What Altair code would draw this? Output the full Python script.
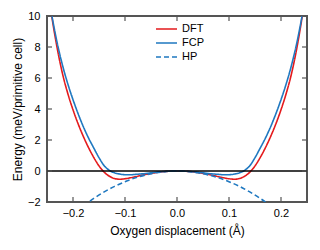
import altair as alt
import pandas as pd

# --- data ---
x_vals = [-0.25, -0.24, -0.23, -0.22, -0.21, -0.20, -0.19, -0.18, -0.17, -0.16, -0.15, -0.14, -0.13,
          -0.12, -0.11, -0.10, -0.09, -0.08, -0.06, -0.04, -0.02, 0.0,
          0.02, 0.04, 0.06, 0.08, 0.09, 0.10, 0.11, 0.12, 0.13, 0.14, 0.15, 0.16, 0.17,
          0.18, 0.19, 0.20, 0.21, 0.22, 0.23, 0.24, 0.25]
dft_vals = [12.1, 9.8, 7.85, 6.25, 5.0, 3.95, 3.03, 2.22, 1.50, 0.87, 0.33, -0.08, -0.34,
            -0.49, -0.53, -0.50, -0.44, -0.37, -0.22, -0.10, -0.025, 0.0,
            -0.025, -0.10, -0.22, -0.37, -0.44, -0.50, -0.53, -0.49, -0.34, -0.08, 0.33, 0.87, 1.50,
            2.22, 3.03, 3.95, 5.0, 6.25, 7.85, 9.8, 12.1]
fcp_vals = [11.8, 9.9, 8.2, 6.8, 5.62, 4.6, 3.68, 2.85, 2.12, 1.48, 0.86, 0.34, 0.04,
            -0.12, -0.20, -0.24, -0.24, -0.22, -0.16, -0.08, -0.02, 0.0,
            -0.02, -0.08, -0.16, -0.22, -0.24, -0.24, -0.20, -0.12, 0.04, 0.34, 0.86, 1.48, 2.12,
            2.85, 3.68, 4.6, 5.62, 6.8, 8.2, 9.9, 11.8]
hp_x = [-0.18, -0.16, -0.14, -0.12, -0.10, -0.08, -0.06, -0.04, -0.02, 0.0,
        0.02, 0.04, 0.06, 0.08, 0.10, 0.12, 0.14, 0.16, 0.18]
hp_vals = [-2.24, -1.77, -1.35, -0.99, -0.69, -0.44, -0.25, -0.11, -0.03, 0.0,
           -0.03, -0.11, -0.25, -0.44, -0.69, -0.99, -1.35, -1.77, -2.24]

series_names = ["DFT", "FCP", "HP"]
series_colors = ["#e41a1c", "#1f78c0", "#1f78c0"]
x_ticks = [-0.2, -0.1, 0.0, 0.1, 0.2]
y_ticks = [-2, 0, 2, 4, 6, 8, 10]
x_dom = [-0.25, 0.25]
y_dom = [-2, 10]

rows = []
for x, d, f in zip(x_vals, dft_vals, fcp_vals):
    rows.append({"x": x, "E": d, "series": "DFT"})
    rows.append({"x": x, "E": f, "series": "FCP"})
for x, h in zip(hp_x, hp_vals):
    rows.append({"x": x, "E": h, "series": "HP"})
df = pd.DataFrame(rows)
xt = pd.DataFrame({"t": x_ticks, "lo": y_dom[0], "hi": y_dom[1]})
yt = pd.DataFrame({"t": y_ticks, "lo": x_dom[0], "hi": x_dom[1]})

FONT = "Liberation Sans"
xscale = alt.Scale(domain=x_dom, nice=False, zero=False)
yscale = alt.Scale(domain=y_dom, nice=False, zero=False)

xaxis = alt.Axis(title="Oxygen displacement (Å)", values=x_ticks, format=".1f",
                 labelPadding=5, titlePadding=7, labelOverlap=False)
yaxis = alt.Axis(title="Energy (meV/primitive cell)", values=y_ticks, format="d",
                 labelPadding=7, titlePadding=3, labelOverlap=False)

leg = dict(title=None, orient="none", legendX=108, legendY=6,
           symbolType="stroke", symbolSize=441, symbolStrokeWidth=1.6,
           labelFontSize=11, labelFont=FONT, labelOffset=4, labelColor="#000",
           clipHeight=14, rowPadding=0, padding=0)

lines = alt.Chart(df).mark_line(clip=True, strokeWidth=1.6, interpolate="monotone").encode(
    x=alt.X("x:Q", scale=xscale, axis=xaxis),
    y=alt.Y("E:Q", scale=yscale, axis=yaxis),
    color=alt.Color("series:N",
                    scale=alt.Scale(domain=series_names, range=series_colors),
                    legend=alt.Legend(**leg)),
    strokeDash=alt.StrokeDash("series:N",
                              scale=alt.Scale(domain=series_names, range=[[1, 0], [1, 0], [5, 3]]),
                              legend=alt.Legend(**leg)),
)

zero = alt.Chart(pd.DataFrame({"v": [0]})).mark_rule(color="black", strokeWidth=1.4).encode(
    y=alt.Y("v:Q", scale=yscale, axis=yaxis))

tick_style = dict(color="#555555", strokeWidth=1.2)
bottom = alt.Chart(xt).mark_rule(y2Offset=-5, **tick_style).encode(
    x=alt.X("t:Q", scale=xscale, axis=xaxis), y=alt.Y("lo:Q", scale=yscale, axis=yaxis), y2="lo:Q")
top = alt.Chart(xt).mark_rule(y2Offset=5, **tick_style).encode(
    x=alt.X("t:Q", scale=xscale, axis=xaxis), y=alt.Y("hi:Q", scale=yscale, axis=yaxis), y2="hi:Q")
left = alt.Chart(yt).mark_rule(x2Offset=5, **tick_style).encode(
    y=alt.Y("t:Q", scale=yscale, axis=yaxis), x=alt.X("lo:Q", scale=xscale, axis=xaxis), x2="lo:Q")
right = alt.Chart(yt).mark_rule(x2Offset=-5, **tick_style).encode(
    y=alt.Y("t:Q", scale=yscale, axis=yaxis), x=alt.X("hi:Q", scale=xscale, axis=xaxis), x2="hi:Q")

chart = alt.layer(lines, zero, bottom, top, left, right).properties(
    width=260, height=186,
    background="white",
    autosize=alt.AutoSizeParams(type="none"),
    padding={"left": 39, "top": 8, "right": 5, "bottom": 40},
).configure_view(stroke="#555555", strokeWidth=2).configure_axis(
    domain=False, ticks=False, grid=False, labelFont=FONT, titleFont=FONT,
    labelFontSize=11, titleFontSize=12, titleFontWeight="normal",
    labelColor="#000", titleColor="#000", labelOverlap=False
)

chart.save("out.html", embed_options={"renderer": "svg", "actions": False})
